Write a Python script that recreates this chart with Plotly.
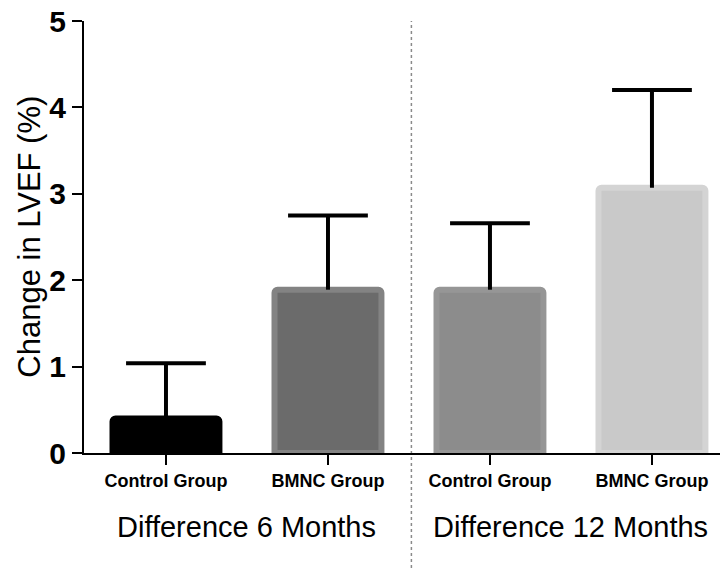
import plotly.graph_objects as go

categories = ["Control Group", "BMNC Group", "Control Group ", "BMNC Group "]
tick_text = ["Control Group", "BMNC Group", "Control Group", "BMNC Group"]
values = [0.40, 1.89, 1.89, 3.07]
errors_plus = [0.64, 0.86, 0.77, 1.13]
group_labels = ["Difference 6 Months", "Difference 12 Months"]
y_ticks = [0, 1, 2, 3, 4, 5]

fill_colors = ["#000000", "#6b6b6b", "#8c8c8c", "#c9c9c9"]
edge_colors = ["#000000", "#838383", "#969696", "#d4d4d4"]

FONT = "Liberation Sans, Arial, Helvetica, sans-serif"

x_idx = list(range(len(categories)))
err_tops = [v + e for v, e in zip(values, errors_plus)]

fig = go.Figure()
fig.add_trace(go.Bar(
    x=x_idx,
    y=values,
    width=0.66,
    marker=dict(color=fill_colors, line=dict(color=edge_colors, width=6), cornerradius=3),
    showlegend=False,
))
# upper-only error bars: stem drawn downward from the cap to the bar top, cap as a marker
fig.add_trace(go.Scatter(
    x=x_idx,
    y=err_tops,
    mode="markers",
    marker=dict(symbol="line-ew-open", size=57, color="black", line=dict(color="black", width=4)),
    error_y=dict(type="data", symmetric=False, array=[0] * len(values),
                 arrayminus=errors_plus, color="black", thickness=4, width=0),
    showlegend=False, hoverinfo="skip",
))

# dotted separator between the two time points
fig.add_shape(type="line", xref="x", yref="paper", x0=1.515, x1=1.515, y0=-0.28, y1=1.0,
              line=dict(color="#8a8a8a", width=1.5, dash="dot"), layer="below")

for gi, lab in enumerate(group_labels):
    fig.add_annotation(text=lab, x=0.5 + 2 * gi, xref="x", y=-0.172, yref="paper",
                       showarrow=False, xanchor="center", yanchor="middle",
                       font=dict(family=FONT, size=29, color="black"))

fig.add_annotation(text="Change in LVEF (%)", textangle=-90, x=-0.087, xref="paper",
                   y=0.5, yref="paper", showarrow=False, xanchor="center", yanchor="middle",
                   font=dict(family=FONT, size=31, color="black"))

fig.update_layout(
    width=724, height=570,
    margin=dict(l=84, r=4, t=21, b=117),
    paper_bgcolor="white", plot_bgcolor="white",
    bargap=0.3,
)
fig.update_xaxes(
    range=[-0.506, 3.42], tickmode="array", tickvals=x_idx, ticktext=tick_text,
    showline=True, linecolor="black", linewidth=2,
    ticks="outside", ticklen=10, tickwidth=2, tickcolor="black",
    tickfont=dict(family=FONT, size=18, color="black", weight="bold"),
    showgrid=False, zeroline=False,
)
fig.update_yaxes(
    range=[0, 5], tickmode="array", tickvals=y_ticks,
    showline=True, linecolor="black", linewidth=2,
    ticks="outside", ticklen=10, tickwidth=2, tickcolor="black",
    tickfont=dict(family=FONT, size=30, color="black", weight="bold"),
    showgrid=False, zeroline=False,
)

fig.write_html("out.html")
